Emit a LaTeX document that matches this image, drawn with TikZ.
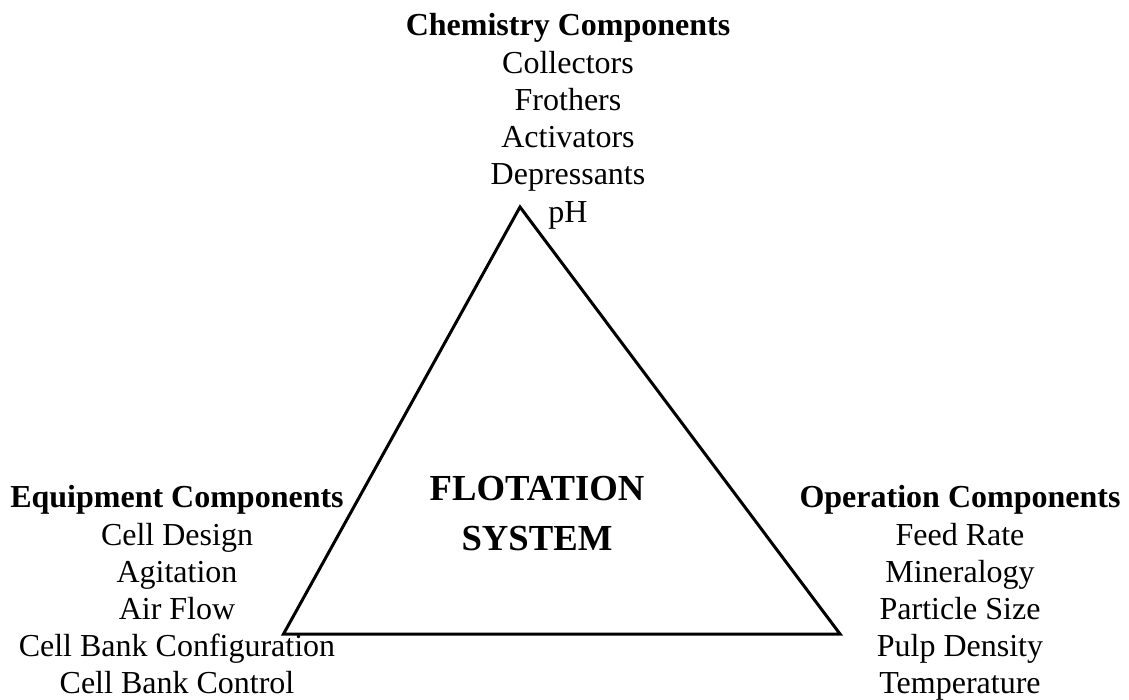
\documentclass[tikz,border=0pt]{standalone}
\usepackage{fontspec}
\setmainfont{Liberation Serif}
\begin{document}
\begin{tikzpicture}[x=1pt,y=-1pt,
  head/.style={font=\fontsize{32}{37}\selectfont\bfseries, anchor=base, inner sep=0pt},
  item/.style={font=\fontsize{32}{37}\selectfont, anchor=base, inner sep=0pt},
  title/.style={font=\fontsize{36.7}{50}\selectfont\bfseries, anchor=base, inner sep=0pt},
  edge/.style={line width=3pt, line join=miter}]
\useasboundingbox (0,0) rectangle (1129,699);

% triangle corners
\coordinate (apex) at (520,207);
\coordinate (bl) at (283.5,634);
\coordinate (br) at (840,634);
\draw[edge] (apex) -- (bl) -- (br) -- cycle;

% centre label
\node[title] (flot) at (537,500) {FLOTATION};
\node[title] (sys) at (537,550) {SYSTEM};

% chemistry group
\node[head] (chem) at (568,35) {Chemistry Components};
\foreach \t [count=\i] in {Collectors,Frothers,Activators,Depressants,pH}
  \node[item] (chem\i) at (568,{73+37.3*(\i-1)}) {\t};

% equipment group
\node[head] (equip) at (177,507) {Equipment Components};
\foreach \t [count=\i] in {Cell Design,Agitation,Air Flow,Cell Bank Configuration,Cell Bank Control}
  \node[item] (equip\i) at (177,{545+37.2*(\i-1)}) {\t};

% operation group
\node[head] (oper) at (960,507) {Operation Components};
\foreach \t [count=\i] in {Feed Rate,Mineralogy,Particle Size,Pulp Density,Temperature}
  \node[item] (oper\i) at (960,{545+37.2*(\i-1)}) {\t};
\end{tikzpicture}
\end{document}
